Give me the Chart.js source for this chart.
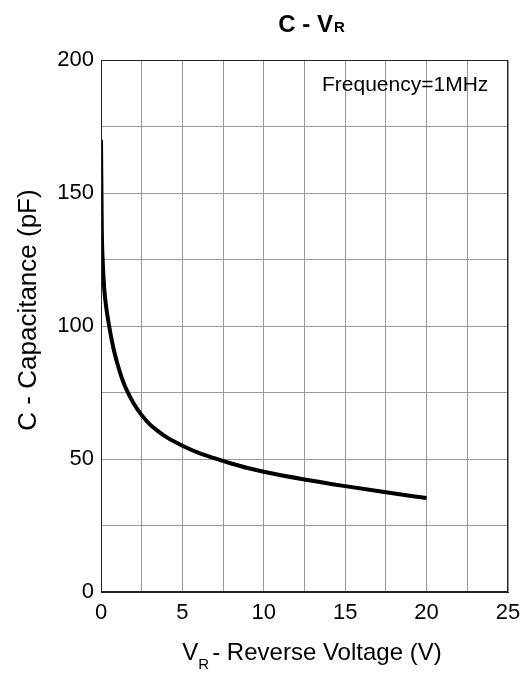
<!DOCTYPE html>
<html>
<head>
<meta charset="utf-8">
<script src="https://cdn.jsdelivr.net/npm/chart.js@4/dist/chart.umd.min.js"></script>
<style>
  html, body { margin: 0; padding: 0; background: #fff; }
  #wrap { width: 521px; height: 675px; }
</style>
</head>
<body>
<div id="wrap"><canvas id="chart" width="521" height="675"></canvas></div>
<script>
// reverse voltage (V) and capacitance (pF)
const voltage     = [0, 0.05, 0.1, 0.2, 0.3, 0.5, 0.75, 1, 1.25, 1.5, 2, 2.5, 3, 3.5, 4, 5, 6, 7, 8, 9, 10, 12.5, 15, 17.5, 20];
const capacitance = [170, 136, 125, 114, 108, 100, 92, 86, 81, 77, 71, 66.5, 63, 60.5, 58.3, 55, 52.3, 50.2, 48.3, 46.6, 45.2, 42.3, 39.8, 37.5, 35.3];

const xTicks = [0, 5, 10, 15, 20, 25];
const yTicks = [0, 50, 100, 150, 200];

const FONT = "'Liberation Sans', Arial, sans-serif";

// ─── TEXT + FRAME PLUGIN ──────────────────────────────────────
const decor = {
    id: "decor",
    afterDraw(chart) {
        const ctx = chart.ctx;
        const a = chart.chartArea;
        ctx.save();

        // frame round the plot
        ctx.strokeStyle = "#222";
        ctx.lineWidth = 1;
        ctx.strokeRect(a.left + 0.5, a.top + 0.5, a.right - a.left - 1, a.bottom - a.top - 1);

        ctx.fillStyle = "#000";
        ctx.textBaseline = "alphabetic";

        // title "C - V" with subscript R
        ctx.font = "bold 24px " + FONT;
        const t1 = "C - V";
        const w1 = ctx.measureText(t1).width;
        ctx.font = "bold 15px " + FONT;
        const w2 = ctx.measureText("R").width;
        let tx = 311 - (w1 + w2) / 2;
        ctx.font = "bold 24px " + FONT;
        ctx.textAlign = "left";
        ctx.fillText(t1, tx, 32);
        ctx.font = "bold 15px " + FONT;
        ctx.fillText("R", tx + w1 + 1, 32);

        // x axis title with subscript R
        ctx.font = "24px " + FONT;
        const s1 = "V";
        const s3 = "- Reverse Voltage (V)";
        const ws1 = ctx.measureText(s1).width;
        const ws3 = ctx.measureText(s3).width;
        ctx.font = "15px " + FONT;
        const ws2 = ctx.measureText("R").width + 3;
        let sx = 312 - (ws1 + ws2 + ws3) / 2;
        ctx.font = "24px " + FONT;
        ctx.fillText(s1, sx, 660);
        ctx.font = "15px " + FONT;
        ctx.fillText("R", sx + ws1, 669);
        ctx.font = "24px " + FONT;
        ctx.fillText(s3, sx + ws1 + ws2, 660);

        // y axis title
        ctx.translate(29, 310);
        ctx.rotate(-Math.PI / 2);
        ctx.textAlign = "center";
        ctx.textBaseline = "middle";
        ctx.font = "26px " + FONT;
        ctx.fillText("C - Capacitance (pF)", 0, 0);
        ctx.setTransform(1, 0, 0, 1, 0, 0);

        // annotation
        ctx.textAlign = "left";
        ctx.textBaseline = "alphabetic";
        ctx.font = "21px " + FONT;
        ctx.fillText("Frequency=1MHz", 322, 91);

        ctx.restore();
    }
};

// ─── CHART INIT ───────────────────────────────────────────────
const ctx = document.getElementById("chart").getContext("2d");
new Chart(ctx, {
    type: "line",
    data: {
        datasets: [{
            data: voltage.map((v, i) => ({ x: v, y: capacitance[i] })),
            borderColor: "#000",
            borderWidth: 4,
            pointRadius: 0,
            cubicInterpolationMode: "monotone",
            fill: false
        }]
    },
    options: {
        responsive: false,
        animation: false,
        layout: { padding: { top: 60, right: 13, left: 0, bottom: 0 } },
        plugins: { legend: { display: false }, tooltip: { enabled: false } },
        scales: {
            x: {
                type: "linear",
                min: 0, max: 25,
                afterFit: s => { s.height = 83; s.paddingLeft = 0; s.paddingRight = 0; },
                ticks: {
                    stepSize: 2.5,
                    autoSkip: false,
                    maxRotation: 0,
                    padding: 8,
                    color: "#000",
                    font: { family: FONT, size: 22 },
                    callback: v => xTicks.includes(v) ? String(v) : ""
                },
                grid: { color: "#999", drawTicks: false, lineWidth: 1 },
                border: { color: "#222" }
            },
            y: {
                min: 0, max: 200,
                afterFit: s => { s.width = 101; s.paddingTop = 0; s.paddingBottom = 0; },
                ticks: {
                    stepSize: 25,
                    autoSkip: false,
                    padding: 7,
                    color: "#000",
                    font: { family: FONT, size: 22 },
                    callback: v => yTicks.includes(v) ? String(v) : ""
                },
                grid: { color: "#999", drawTicks: false, lineWidth: 1 },
                border: { color: "#222" }
            }
        }
    },
    plugins: [decor]
});
</script>
</body>
</html>
